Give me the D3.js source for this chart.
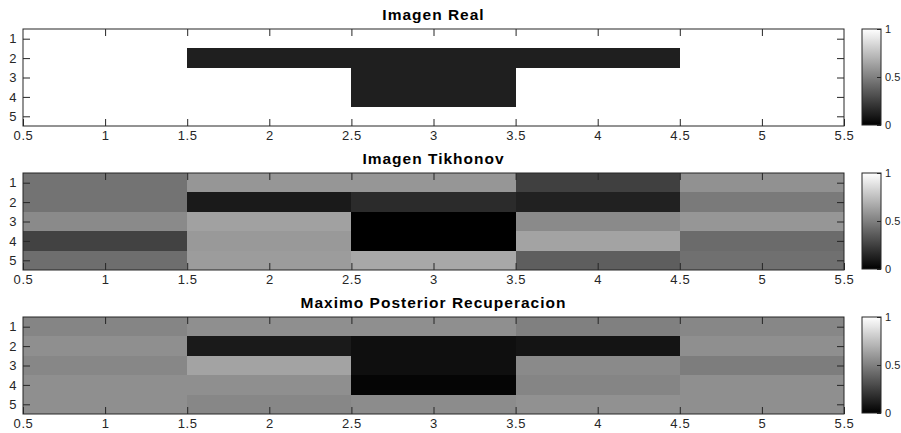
<!DOCTYPE html>
<html>
<head>
<meta charset="utf-8">
<script src="https://cdn.jsdelivr.net/npm/d3@7"></script>
<style>
html,body{margin:0;padding:0;background:#fff;}
svg{display:block;font-family:"Liberation Sans",Arial,Helvetica,sans-serif;}
</style>
</head>
<body>
<svg id="chart" width="901" height="433"></svg>
<script>
// ---- data ----
const columns = [1, 2, 3, 4, 5];
const rows = [1, 2, 3, 4, 5];
const xTicks = [0.5, 1, 1.5, 2, 2.5, 3, 3.5, 4, 4.5, 5, 5.5];
const yTicks = [1, 2, 3, 4, 5];
const cbTicks = [0, 0.5, 1];
const titles = ["Imagen Real", "Imagen Tikhonov", "Maximo Posterior Recuperacion"];

// rows top->bottom, columns left->right
const imagenReal = [
  [1, 1, 1, 1, 1],
  [1, 0.12, 0.12, 0.12, 1],
  [1, 1, 0.12, 1, 1],
  [1, 1, 0.12, 1, 1],
  [1, 1, 1, 1, 1]
];
const imagenTikhonov = [
  [0.45, 0.59, 0.59, 0.25, 0.57],
  [0.45, 0.10, 0.17, 0.13, 0.48],
  [0.54, 0.63, 0.00, 0.54, 0.59],
  [0.26, 0.60, 0.00, 0.64, 0.42],
  [0.43, 0.61, 0.66, 0.37, 0.44]
];
const maximoPosterior = [
  [0.52, 0.56, 0.56, 0.50, 0.53],
  [0.56, 0.10, 0.06, 0.08, 0.56],
  [0.53, 0.64, 0.06, 0.54, 0.49],
  [0.56, 0.56, 0.02, 0.52, 0.56],
  [0.56, 0.53, 0.55, 0.57, 0.56]
];
const images = [imagenReal, imagenTikhonov, maximoPosterior];

// ---- layout ----
const svg = d3.select("#chart");
const left = 23, right = 844;
const tops = [29, 173, 317];
const panelH = 97;
const axisColor = "#262626";
const fmt = d3.format("~g");

const x = d3.scaleLinear().domain([0.5, 5.5]).range([left, right]);
const color = d3.scaleLinear().domain([0, 1]).range(["#000000", "#ffffff"]);

// gradient for colorbars
const defs = svg.append("defs");
const grad = defs.append("linearGradient").attr("id", "cbgrad")
  .attr("x1", 0).attr("y1", 1).attr("x2", 0).attr("y2", 0);
d3.range(0, 1.0001, 0.1).forEach(t => {
  grad.append("stop").attr("offset", t).attr("stop-color", color(t));
});

images.forEach((data, k) => {
  const top = tops[k];
  const bottom = top + panelH;
  const y = d3.scaleLinear().domain([0.5, 5.5]).range([top, bottom]);
  const g = svg.append("g");

  // cells
  const cells = [];
  rows.forEach((r, i) => columns.forEach((c, j) => cells.push({r, c, v: data[i][j]})));
  g.selectAll("rect.cell").data(cells).join("rect")
    .attr("class", "cell")
    .attr("x", d => x(d.c - 0.5))
    .attr("y", d => y(d.r - 0.5))
    .attr("width", d => x(d.c + 0.5) - x(d.c - 0.5))
    .attr("height", d => y(d.r + 0.5) - y(d.r - 0.5))
    .attr("fill", d => color(d.v))
    .attr("shape-rendering", "crispEdges");

  // axes (ticks inside)
  const tickLen = 7;
  const xb = d3.axisBottom(x).tickValues(xTicks).tickSizeInner(-tickLen).tickSizeOuter(0)
    .tickPadding(5).tickFormat(fmt);
  const xt = d3.axisTop(x).tickValues(xTicks.slice(1, -1)).tickSizeInner(-tickLen).tickSizeOuter(0).tickFormat("");
  const yl = d3.axisLeft(y).tickValues(yTicks).tickSizeInner(-tickLen).tickSizeOuter(0)
    .tickPadding(6).tickFormat(fmt);
  const yr = d3.axisRight(y).tickValues(yTicks).tickSizeInner(-tickLen).tickSizeOuter(0).tickFormat("");

  const styleAxis = sel => {
    sel.selectAll("path").remove();
    sel.selectAll("line").attr("stroke", axisColor);
    sel.selectAll("text").attr("fill", axisColor).attr("font-size", 13)
      .attr("letter-spacing", 0.6)
      .attr("font-family", '"Liberation Sans",Arial,sans-serif');
  };
  g.append("g").attr("transform", `translate(0,${bottom})`).call(xb).call(styleAxis);
  g.append("g").attr("transform", `translate(0,${top})`).call(xt).call(styleAxis);
  g.append("g").attr("transform", `translate(${left},0)`).call(yl).call(styleAxis);
  g.append("g").attr("transform", `translate(${right},0)`).call(yr).call(styleAxis);

  // box
  g.append("rect").attr("x", left).attr("y", top)
    .attr("width", right - left).attr("height", panelH)
    .attr("fill", "none").attr("stroke", axisColor).attr("stroke-width", 1);

  // title
  g.append("text").attr("x", (left + right) / 2).attr("y", top - 9)
    .attr("text-anchor", "middle").attr("font-weight", "bold")
    .attr("font-size", 15.5).attr("letter-spacing", 1).attr("fill", "#000").text(titles[k]);

  // colorbar
  const cbx = 862, cbw = 19;
  const cy = d3.scaleLinear().domain([0, 1]).range([bottom - 1, top]);
  g.append("rect").attr("x", cbx).attr("y", top).attr("width", cbw)
    .attr("height", panelH - 1).attr("fill", "url(#cbgrad)")
    .attr("stroke", axisColor).attr("stroke-width", 1);
  const cba = d3.axisRight(cy).tickValues(cbTicks).tickSizeInner(-4).tickSizeOuter(0)
    .tickPadding(4).tickFormat(fmt);
  g.append("g").attr("transform", `translate(${cbx + cbw},0)`).call(cba).call(styleAxis)
    .selectAll("text").attr("font-size", 11).attr("letter-spacing", 0);
});
</script>
</body>
</html>
